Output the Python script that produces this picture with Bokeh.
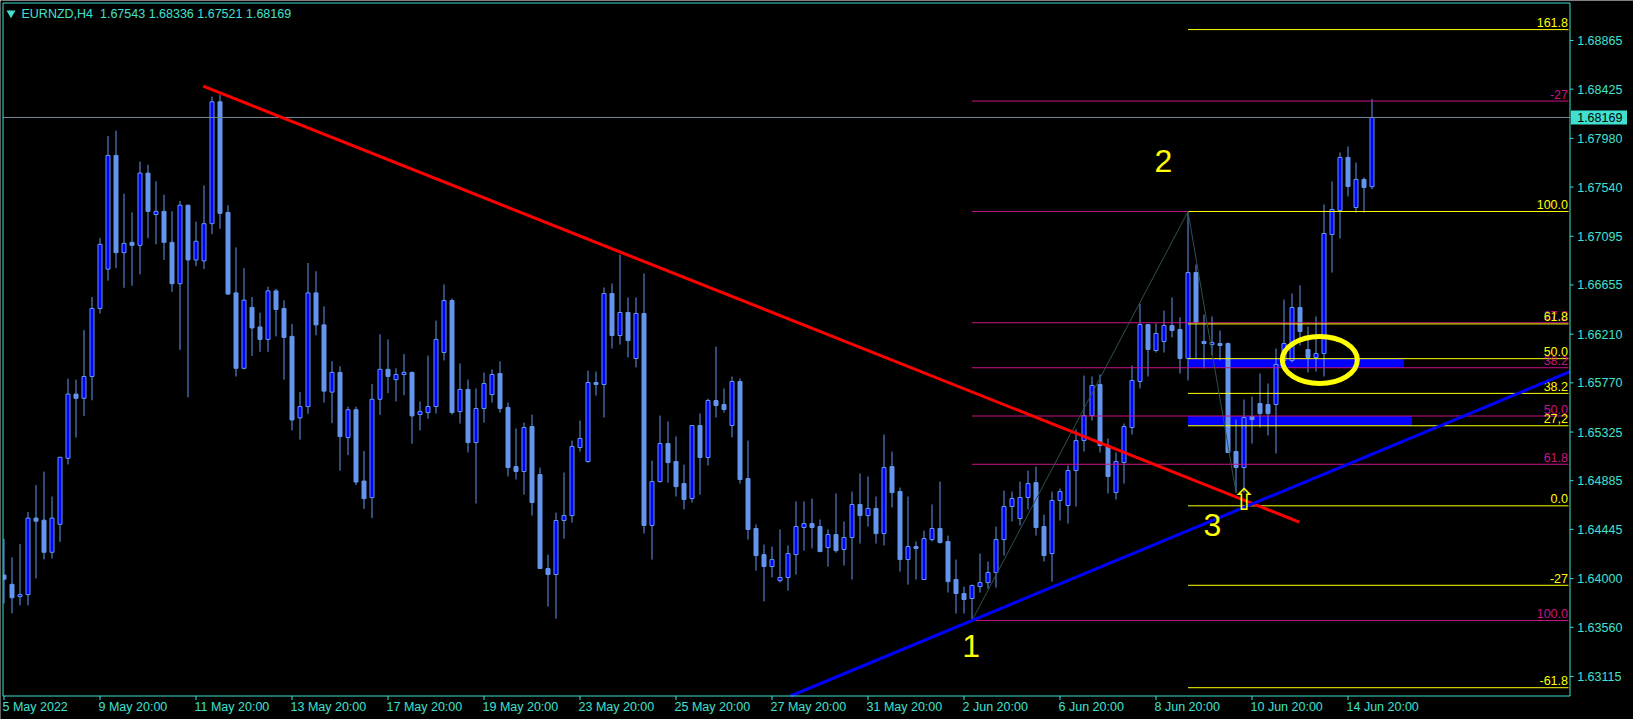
from bokeh.plotting import figure
from bokeh.models import Range1d, ColumnDataSource
from bokeh.core.properties import value
from bokeh.embed import file_html
from bokeh.resources import INLINE

# ---------------- data ----------------
symbol = "EURNZD,H4"

opens = [1.64032, 1.63948, 1.63837, 1.63855, 1.64547, 1.64528, 1.64238, 1.64491, 1.65088, 1.65668,
         1.65630, 1.65827, 1.66442, 1.66798, 1.67826, 1.66947, 1.67040, 1.67013, 1.67666, 1.67292,
         1.67320, 1.67040, 1.66666, 1.67376, 1.66881, 1.66872, 1.67209, 1.68311, 1.67311, 1.66583,
         1.65901, 1.66452, 1.66275, 1.66162, 1.66601, 1.66442, 1.66190, 1.65453, 1.65555, 1.66583,
         1.66294, 1.65686, 1.65864, 1.65275, 1.65527, 1.64882, 1.64732, 1.65621, 1.65892, 1.65799,
         1.65845, 1.65864, 1.65483, 1.65501, 1.65556, 1.66044, 1.66514, 1.65510, 1.65710, 1.65230,
         1.65538, 1.65664, 1.65854, 1.65547, 1.65013, 1.64968, 1.65375, 1.64941, 1.64091, 1.64037,
         1.64525, 1.64570, 1.65185, 1.65058, 1.65773, 1.65755, 1.66577, 1.66198, 1.66406, 1.65990,
         1.66397, 1.64480, 1.64877, 1.65221, 1.65058, 1.64859, 1.64724, 1.65384, 1.65095, 1.65610,
         1.65574, 1.65384, 1.65782, 1.64905, 1.64453, 1.64217, 1.64109, 1.63982, 1.64010, 1.64217,
         1.64462, 1.64498, 1.64471, 1.64281, 1.64398, 1.64263, 1.64371, 1.64670, 1.64570, 1.64634,
         1.64407, 1.65013, 1.64787, 1.64172, 1.64290, 1.63992, 1.64353, 1.64453, 1.64335, 1.63992,
         1.63865, 1.63820, 1.63928, 1.63964, 1.64055, 1.64353, 1.64652, 1.64543, 1.64733, 1.64868,
         1.64471, 1.64226, 1.64706, 1.64661, 1.64977, 1.65248, 1.65474, 1.65755, 1.65203, 1.64778,
         1.65049, 1.65366, 1.65782, 1.66297, 1.66062, 1.66143, 1.66288, 1.66252, 1.65990, 1.66767,
         1.66143, 1.66116, 1.66125, 1.66125, 1.65149, 1.65004, 1.65465, 1.65583, 1.65574, 1.65574,
         1.65972, 1.65972, 1.66451, 1.66071, 1.65999, 1.66035, 1.67111, 1.67328, 1.67808, 1.67355,
         1.67609, 1.67543]

highs = [1.64360, 1.64191, 1.64313, 1.64602, 1.64845, 1.64967, 1.64742, 1.65097, 1.65808, 1.65799,
         1.66246, 1.66546, 1.67078, 1.68002, 1.68050, 1.67480, 1.67311, 1.67770, 1.67741, 1.67592,
         1.67470, 1.67320, 1.67414, 1.67376, 1.67227, 1.67554, 1.68358, 1.68376, 1.67376, 1.66994,
         1.66807, 1.66546, 1.66405, 1.66639, 1.66620, 1.66517, 1.66303, 1.65686, 1.66853, 1.66779,
         1.66461, 1.65966, 1.65920, 1.65555, 1.65555, 1.65154, 1.65760, 1.66209, 1.66162, 1.65901,
         1.66031, 1.65873, 1.65601, 1.66017, 1.66333, 1.66659, 1.66532, 1.65945, 1.65800, 1.65719,
         1.65863, 1.65891, 1.65963, 1.65592, 1.65357, 1.65411, 1.65483, 1.65004, 1.64217, 1.64597,
         1.64959, 1.65248, 1.65429, 1.65881, 1.65872, 1.66632, 1.66668, 1.66930, 1.66541, 1.66541,
         1.66758, 1.65067, 1.65474, 1.65420, 1.65285, 1.65031, 1.65384, 1.65492, 1.65628, 1.66098,
         1.65719, 1.65827, 1.65809, 1.65248, 1.64489, 1.64308, 1.64290, 1.64444, 1.64299, 1.64697,
         1.64697, 1.64724, 1.64534, 1.64444, 1.64769, 1.64516, 1.64787, 1.64950, 1.64923, 1.64742,
         1.65303, 1.65149, 1.64823, 1.64742, 1.64335, 1.64434, 1.64670, 1.64877, 1.64389, 1.64172,
         1.63928, 1.63946, 1.64226, 1.64154, 1.64471, 1.64796, 1.64787, 1.64877, 1.64977, 1.65013,
         1.64579, 1.64787, 1.64814, 1.65022, 1.65348, 1.65836, 1.65827, 1.65845, 1.65267, 1.65140,
         1.65402, 1.65927, 1.66487, 1.66297, 1.66306, 1.66424, 1.66541, 1.66361, 1.67319, 1.66840,
         1.66388, 1.66370, 1.66243, 1.66134, 1.65438, 1.65619, 1.65646, 1.65854, 1.65764, 1.66080,
         1.66523, 1.66577, 1.66650, 1.66279, 1.66370, 1.67382, 1.67590, 1.67853, 1.67907, 1.67762,
         1.67627, 1.68336]

lows = [1.63776, 1.63685, 1.63758, 1.63758, 1.64002, 1.64173, 1.64182, 1.64332, 1.65032, 1.65275,
        1.65471, 1.65612, 1.66396, 1.66694, 1.66807, 1.66629, 1.66648, 1.66751, 1.67078, 1.67022,
        1.66881, 1.66592, 1.66068, 1.65640, 1.66826, 1.66798, 1.67116, 1.67162, 1.66564, 1.65827,
        1.65892, 1.66013, 1.66050, 1.66050, 1.66190, 1.65799, 1.65340, 1.65256, 1.65490, 1.66200,
        1.65592, 1.65405, 1.64976, 1.65116, 1.64845, 1.64630, 1.64547, 1.65480, 1.65677, 1.65601,
        1.65658, 1.65219, 1.65340, 1.65447, 1.65492, 1.65972, 1.65483, 1.65402, 1.65140, 1.64679,
        1.65411, 1.65592, 1.65501, 1.64923, 1.64896, 1.64760, 1.64570, 1.64091, 1.63748, 1.63639,
        1.64362, 1.64507, 1.65149, 1.65049, 1.65655, 1.65456, 1.66080, 1.66116, 1.65999, 1.65909,
        1.64407, 1.64172, 1.64868, 1.64868, 1.64742, 1.64625, 1.64688, 1.64760, 1.65022, 1.65456,
        1.65501, 1.65276, 1.64859, 1.64353, 1.64073, 1.63793, 1.64010, 1.63964, 1.63892, 1.64037,
        1.64253, 1.64272, 1.64244, 1.64109, 1.64235, 1.64118, 1.63992, 1.64317, 1.64471, 1.64317,
        1.64299, 1.64643, 1.64064, 1.63946, 1.63992, 1.63992, 1.64335, 1.64317, 1.63874, 1.63684,
        1.63684, 1.63621, 1.63874, 1.63910, 1.63919, 1.64208, 1.64516, 1.64480, 1.64625, 1.64389,
        1.64154, 1.63973, 1.64525, 1.64498, 1.64652, 1.65149, 1.65429, 1.65140, 1.64769, 1.64715,
        1.64859, 1.65303, 1.65719, 1.65827, 1.66044, 1.66044, 1.66180, 1.65854, 1.65791, 1.65990,
        1.65900, 1.66017, 1.65972, 1.65140, 1.64778, 1.64778, 1.65221, 1.65366, 1.65294, 1.65131,
        1.65954, 1.65954, 1.66107, 1.65863, 1.65872, 1.65827, 1.66767, 1.67075, 1.67455, 1.67310,
        1.67310, 1.67521]

closes = [1.63995, 1.63827, 1.63855, 1.64547, 1.64519, 1.64238, 1.64547, 1.65097, 1.65668, 1.65630,
          1.65827, 1.66442, 1.67022, 1.67826, 1.66947, 1.67031, 1.67013, 1.67666, 1.67320, 1.67320,
          1.67040, 1.66666, 1.67376, 1.66881, 1.67050, 1.67209, 1.68311, 1.67302, 1.66573, 1.65901,
          1.66517, 1.66266, 1.66162, 1.66601, 1.66433, 1.66181, 1.65434, 1.65555, 1.66583, 1.66294,
          1.65695, 1.65864, 1.65284, 1.65527, 1.64873, 1.64723, 1.65621, 1.65892, 1.65827, 1.65845,
          1.65864, 1.65471, 1.65510, 1.65556, 1.66162, 1.66514, 1.65501, 1.65710, 1.65230, 1.65538,
          1.65764, 1.65845, 1.65538, 1.65004, 1.64968, 1.65366, 1.64688, 1.64091, 1.64037, 1.64525,
          1.64570, 1.65194, 1.65267, 1.65773, 1.65755, 1.66577, 1.66198, 1.66406, 1.66152, 1.66397,
          1.64480, 1.64877, 1.65221, 1.65049, 1.64832, 1.64715, 1.65384, 1.65095, 1.65610, 1.65565,
          1.65529, 1.65782, 1.64896, 1.64444, 1.64208, 1.64109, 1.64172, 1.64010, 1.64226, 1.64471,
          1.64498, 1.64462, 1.64244, 1.64398, 1.64253, 1.64371, 1.64670, 1.64570, 1.64634, 1.64407,
          1.65004, 1.64778, 1.64172, 1.64290, 1.64272, 1.64362, 1.64453, 1.64326, 1.63973, 1.63865,
          1.63811, 1.63937, 1.63964, 1.64055, 1.64353, 1.64652, 1.64724, 1.64733, 1.64859, 1.64462,
          1.64208, 1.64706, 1.64787, 1.64977, 1.65248, 1.65474, 1.65746, 1.65203, 1.64923, 1.65058,
          1.65375, 1.65791, 1.66297, 1.66071, 1.66216, 1.66288, 1.66243, 1.65990, 1.66767, 1.66315,
          1.66125, 1.66134, 1.66107, 1.65140, 1.65004, 1.65456, 1.65438, 1.65492, 1.65492, 1.65936,
          1.66125, 1.66451, 1.66234, 1.65999, 1.66035, 1.67120, 1.67337, 1.67808, 1.67545, 1.67609,
          1.67536, 1.68169]

date_tick_bars = [0, 12, 24, 36, 48, 60, 72, 84, 96, 108, 120, 132, 144, 156, 168]
date_labels = ["5 May 2022", "9 May 20:00", "11 May 20:00", "13 May 20:00", "17 May 20:00",
               "19 May 20:00", "23 May 20:00", "25 May 20:00", "27 May 20:00", "31 May 20:00",
               "2 Jun 20:00", "6 Jun 20:00", "8 Jun 20:00", "10 Jun 20:00", "14 Jun 20:00"]

price_ticks = [1.68865, 1.68425, 1.67980, 1.67540, 1.67095, 1.66655, 1.66210,
               1.65770, 1.65325, 1.64885, 1.64445, 1.64000, 1.63560, 1.63115]
price_labels = ["1.68865", "1.68425", "1.67980", "1.67540", "1.67095", "1.66655", "1.66210",
                "1.65770", "1.65325", "1.64885", "1.64445", "1.64000", "1.63560", "1.63115"]

# Fibonacci retracement (wave 1 -> wave 2), magenta
fib_a_bar = 121
fib_a_low = 1.63621
fib_a_high = 1.67319
fib_a_levels = [-27, 0, 27.2, 38.2, 50, 61.8, 100]
fib_a_labels = ["-27", "", "27.2", "38.2", "50.0", "61.8", "100.0"]

# Fibonacci expansion, yellow
fib_b_bar = 148
fib_b_zero = 1.64658
fib_b_hundred = 1.67319
fib_b_levels = [161.8, 100, 61.8, 50, 38.2, 27.2, 0, -27, -61.8]
fib_b_labels = ["161.8", "100.0", "61.8", "50.0", "38.2", "27,2", "0.0", "-27", "-61.8"]

# blue zones (left bar, right bar)
zone_left = [148, 148]
zone_right = [175, 176]

# trend lines (anchor points: bar, price)
red_x = [24.9, 161.9]
red_y = [1.68452, 1.64511]
blue_x = [121, 196]
blue_y = [1.63621, 1.65878]

# zigzag 1-2-3
zig_x = [121, 148, 154]
zig_y = [1.63621, 1.67319, 1.64778]

wave_text = ["1", "2", "3"]
wave_x = [120.89, 144.94, 151.06]
wave_y = [1.63390, 1.67780, 1.64489]

ellipse_x = 164.475
ellipse_y = 1.65977
arrow_x = 155
arrow_y = 1.64715

last_price = closes[-1]

# ---------------- layout / styles ----------------
TURQ = "#40E0D0"
BULL = "#0000FF"
BEAR = "#6495ED"
MAG = "#C71585"
YEL = "#FFFF00"
FONT = value("Liberation Sans")
SMALL = "12.5px"

W, H = 1633, 719
PX = 0.00009041            # price per screen pixel
Y_TOP = 1.692266           # price at the top screen row
BAR0_PX, BAR_W = 3.5, 8.0  # screen x of bar 0, pixels per bar


def bx(xpx):
    return (xpx - BAR0_PX) / BAR_W


def py(ypx):
    return Y_TOP - ypx * PX


p = figure(width=W, height=H,
           x_range=Range1d(bx(0), bx(W)), y_range=Range1d(py(H), py(0)),
           x_axis_location=None, y_axis_location=None,
           toolbar_location=None, output_backend="svg",
           background_fill_color="black", border_fill_color="black",
           min_border=0, title=None)
p.xgrid.visible = False
p.ygrid.visible = False
p.outline_line_color = None

CL, CR, CT, CB = bx(2.5), bx(1569.5), py(2.5), py(695.5)   # chart box

# blue zones (background)
zone_top = [fib_b_zero + 0.50 * (fib_b_hundred - fib_b_zero),
            fib_a_high - 0.50 * (fib_a_high - fib_a_low)]
zone_bottom = [fib_a_high - 0.382 * (fib_a_high - fib_a_low),
               fib_b_zero + 0.272 * (fib_b_hundred - fib_b_zero)]
p.quad(left=zone_left, right=zone_right, top=zone_top, bottom=zone_bottom,
       fill_color="#0000FF", line_color=None)

# candles
n = len(opens)
src = ColumnDataSource(dict(
    x=list(range(n)), high=highs, low=lows,
    top=[max(o, c) for o, c in zip(opens, closes)],
    bottom=[min(o, c) for o, c in zip(opens, closes)],
    fill=[BULL if c >= o else BEAR for o, c in zip(opens, closes)],
))
p.segment(x0="x", y0="high", x1="x", y1="low", source=src, line_color=BEAR, line_width=1)
p.vbar(x="x", width=0.5, top="top", bottom="bottom", source=src,
       fill_color="fill", line_color=BEAR, line_width=1)
# hide what lies left of the chart border
p.quad(left=[bx(0)], right=[CL], top=[py(0)], bottom=[py(H)], fill_color="black", line_color=None)

# current price line
p.segment(x0=[CL], y0=[last_price], x1=[CR], y1=[last_price], line_color="#778899", line_width=1)

# fib A (magenta)
fa_prices = [fib_a_high - lv / 100.0 * (fib_a_high - fib_a_low) for lv in fib_a_levels]
p.segment(x0=[fib_a_bar] * len(fa_prices), y0=fa_prices, x1=[bx(1568)] * len(fa_prices), y1=fa_prices,
          line_color=MAG, line_width=1)
# fib B (yellow)
fb_prices = [fib_b_zero + lv / 100.0 * (fib_b_hundred - fib_b_zero) for lv in fib_b_levels]
p.segment(x0=[fib_b_bar] * len(fb_prices), y0=fb_prices, x1=[bx(1568)] * len(fb_prices), y1=fb_prices,
          line_color=YEL, line_width=1)

lab_x = bx(1567.5)
p.text(x=[lab_x] * len(fa_prices), y=fa_prices, text=fib_a_labels, text_align="right",
       text_baseline="middle", y_offset=-7, text_color=MAG, text_font=FONT, text_font_size=SMALL)
p.text(x=[lab_x] * len(fb_prices), y=fb_prices, text=fib_b_labels, text_align="right",
       text_baseline="middle", y_offset=-7, text_color=YEL, text_font=FONT, text_font_size=SMALL)

# zigzag
p.line(zig_x, zig_y, line_color="#2F4F4F", line_width=1)

# trend lines
p.line(red_x, red_y, line_color="#FF0000", line_width=3)
slope = (blue_y[1] - blue_y[0]) / (blue_x[1] - blue_x[0])
bx_start = blue_x[0] + (CB - blue_y[0]) / slope
bx_end = CR
p.line([bx_start, bx_end], [CB, blue_y[0] + (bx_end - blue_x[0]) * slope],
       line_color="#0000FF", line_width=3)

# ellipse
p.ellipse(x=[ellipse_x], y=[ellipse_y], width=75 / BAR_W, height=47 * PX,
          fill_color=None, line_color=YEL, line_width=5)

# arrow
p.text(x=[arrow_x], y=[arrow_y], text=["\u21e7"], text_align="center", text_baseline="middle",
       text_color=YEL, text_font=value("DejaVu Sans"), text_font_size="30px")

# wave labels
p.text(x=wave_x, y=wave_y, text=wave_text, text_align="center", text_baseline="middle",
       text_color=YEL, text_font=FONT, text_font_size="32px")

# header
p.scatter(x=[bx(10.5)], y=[py(12.5)], marker="inverted_triangle", size=9, color=TURQ, line_color=None)
header = "%s\u00a0\u00a0%.5f %.5f %.5f %.5f" % (symbol, opens[-1], highs[-1], lows[-1], closes[-1])
p.text(x=[bx(21)], y=[py(13.5)], text=[header], text_baseline="middle", text_align="left",
       text_color=TURQ, text_font=FONT, text_font_size=SMALL)

# ---- frame and axes (terminal style) ----
p.segment(x0=[CL, CL, CR, CL], y0=[CT, CT, CT, CB], x1=[CL, CR, CR, CR], y1=[CB, CT, CB, CB],
          line_color=TURQ, line_width=1)
# price axis
p.segment(x0=[CR] * len(price_ticks), y0=price_ticks, x1=[bx(1573)] * len(price_ticks), y1=price_ticks,
          line_color=TURQ, line_width=1)
p.text(x=[bx(1576.7)] * len(price_ticks), y=price_ticks, text=price_labels, text_align="left",
       text_baseline="middle", text_color=TURQ, text_font=FONT, text_font_size=SMALL)
# time axis
p.segment(x0=date_tick_bars, y0=[CB] * len(date_tick_bars), x1=date_tick_bars,
          y1=[py(699.5)] * len(date_tick_bars), line_color=TURQ, line_width=1)
p.text(x=[b - 1.5 / BAR_W for b in date_tick_bars], y=[py(706.5)] * len(date_tick_bars), text=date_labels,
       text_align="left", text_baseline="middle", text_color=TURQ, text_font=FONT, text_font_size=SMALL)
# current price box
p.quad(left=[bx(1570.5)], right=[bx(1626.5)], top=[last_price + 7 * PX], bottom=[last_price - 7 * PX],
       fill_color=TURQ, line_color=None)
p.text(x=[bx(1576.7)], y=[last_price], text=["%.5f" % last_price], text_align="left",
       text_baseline="middle", text_color="black", text_font=FONT, text_font_size=SMALL)

open("out.html", "w").write(file_html(p, INLINE))
